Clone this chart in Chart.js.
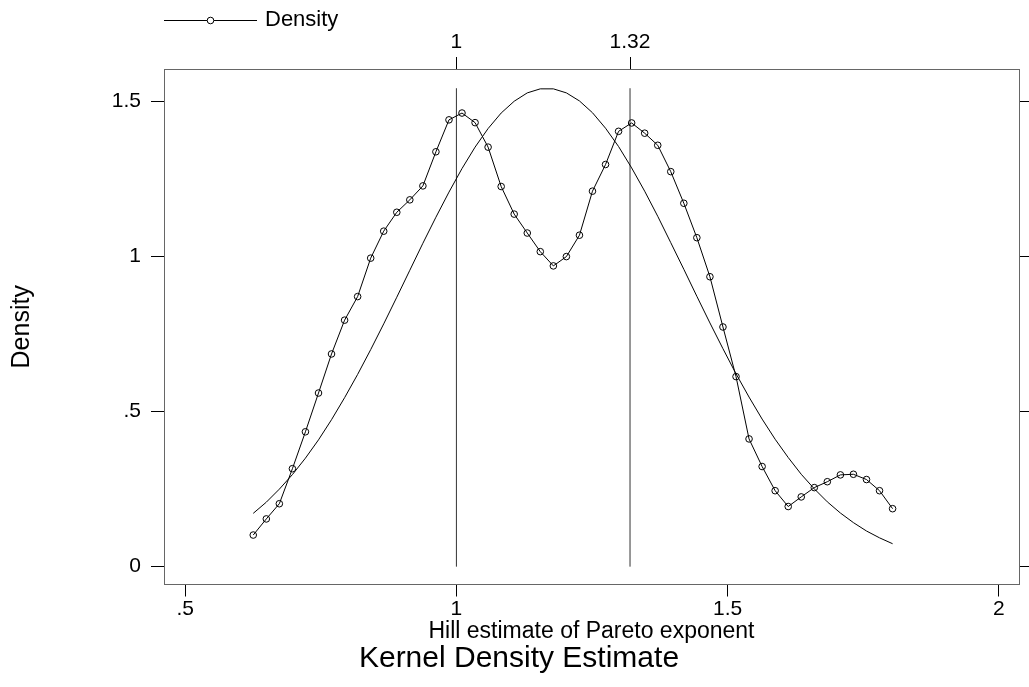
<!DOCTYPE html>
<html>
<head>
<meta charset="utf-8">
<script src="https://cdn.jsdelivr.net/npm/chart.js@4.4.1/dist/chart.umd.min.js"></script>
<style>
  body { margin: 0; background: #fff; }
  #wrap { width: 1029px; height: 687px; }
</style>
</head>
<body>
<div id="wrap"><canvas id="kdChart" width="1029" height="687"></canvas></div>
<script>
// evaluation points (Hill estimate)
const hillX = [0.6255, 0.6496, 0.6736, 0.6977, 0.7217, 0.7458, 0.7698, 0.7939, 0.8179, 0.8420,
  0.8660, 0.8901, 0.9141, 0.9382, 0.9622, 0.9863, 1.0103, 1.0344, 1.0584, 1.0825,
  1.1065, 1.1306, 1.1546, 1.1787, 1.2027, 1.2268, 1.2508, 1.2749, 1.2989, 1.3230,
  1.3470, 1.3711, 1.3951, 1.4192, 1.4432, 1.4673, 1.4913, 1.5154, 1.5394, 1.5635,
  1.5875, 1.6116, 1.6356, 1.6597, 1.6837, 1.7078, 1.7318, 1.7559, 1.7799, 1.8040];

// kernel density (marked line)
const kernelDensity = [0.102, 0.154, 0.203, 0.316, 0.435, 0.560, 0.686, 0.795, 0.871, 0.995,
  1.082, 1.143, 1.183, 1.228, 1.338, 1.441, 1.463, 1.432, 1.353, 1.226,
  1.137, 1.076, 1.016, 0.970, 1.000, 1.069, 1.211, 1.297, 1.404, 1.431,
  1.398, 1.359, 1.274, 1.172, 1.061, 0.935, 0.773, 0.613, 0.412, 0.323,
  0.245, 0.194, 0.225, 0.255, 0.274, 0.296, 0.298, 0.281, 0.245, 0.187];

// normal density overlay (smooth line)
const normalDensity = [0.172, 0.208, 0.250, 0.297, 0.350, 0.409, 0.474, 0.545, 0.620, 0.700,
  0.783, 0.869, 0.956, 1.043, 1.127, 1.208, 1.284, 1.353, 1.413, 1.463,
  1.501, 1.528, 1.541, 1.541, 1.528, 1.502, 1.464, 1.414, 1.355, 1.286,
  1.211, 1.130, 1.045, 0.959, 0.872, 0.786, 0.703, 0.622, 0.547, 0.476,
  0.411, 0.352, 0.298, 0.251, 0.209, 0.173, 0.142, 0.115, 0.093, 0.074];

// vertical reference lines
const refLines = [1, 1.32];
const refTop = 1.543;

const xTicks = [0.5, 1, 1.5, 2];
const xTickLabels = [".5", "1", "1.5", "2"];
const topTicks = [1, 1.32];
const topTickLabels = ["1", "1.32"];
const yTicks = [0, 0.5, 1, 1.5];
const yTickLabels = ["0", ".5", "1", "1.5"];

const FONT = "'Liberation Sans', Arial, sans-serif";

const toPoints = (ys) => hillX.map((x, i) => ({ x: x, y: ys[i] }));

const refSets = refLines.map((v) => ({
  label: "ref" + v,
  data: [{ x: v, y: 0 }, { x: v, y: refTop }],
  borderColor: "#333",
  borderWidth: 1,
  pointRadius: 0,
  tension: 0,
}));

// legend + main title drawn after the chart
const extras = {
  id: "extras",
  afterDraw(chart) {
    const c = chart.ctx;
    c.save();
    c.strokeStyle = "#000";
    c.lineWidth = 1;
    c.beginPath();
    c.moveTo(164, 20.5);
    c.lineTo(257, 20.5);
    c.stroke();
    c.fillStyle = "#fff";
    c.beginPath();
    c.arc(210.5, 20.5, 3.3, 0, Math.PI * 2);
    c.fill();
    c.stroke();
    c.fillStyle = "#000";
    c.font = "22px " + FONT;
    c.textAlign = "left";
    c.textBaseline = "middle";
    c.fillText("Density", 265, 20);
    c.font = "30px " + FONT;
    c.textAlign = "center";
    c.fillText("Kernel Density Estimate", 519, 659);
    c.restore();
  },
};

const tickFont = { family: FONT, size: 21 };

new Chart(document.getElementById("kdChart"), {
  type: "line",
  data: {
    datasets: [
      {
        label: "Density",
        data: toPoints(kernelDensity),
        borderColor: "#000",
        borderWidth: 1,
        pointStyle: "circle",
        pointRadius: 3.3,
        pointBorderWidth: 1,
        pointBorderColor: "#000",
        pointBackgroundColor: "rgba(0,0,0,0)",
        tension: 0,
      },
      {
        label: "Normal density",
        data: toPoints(normalDensity),
        borderColor: "#000",
        borderWidth: 1,
        pointRadius: 0,
        tension: 0,
      },
      ...refSets,
    ],
  },
  options: {
    responsive: false,
    devicePixelRatio: 1,
    animation: false,
    layout: { padding: 0 },
    plugins: { legend: { display: false }, title: { display: false }, tooltip: { enabled: false } },
    scales: {
      x: {
        type: "linear",
        position: "bottom",
        min: 0.461,
        max: 2.037,
        afterBuildTicks: (s) => { s.ticks = xTicks.map((v) => ({ value: v })); },
        afterFit: (s) => { s.height = 102.5; },
        ticks: {
          autoSkip: false, maxRotation: 0, padding: 0, color: "#000", font: tickFont,
          callback: (v, i) => xTickLabels[i],
        },
        grid: { drawOnChartArea: false, drawTicks: true, tickLength: 12, tickColor: "#000" },
        border: { display: true, color: "#666", width: 1 },
        title: {
          display: true, text: "Hill estimate of Pareto exponent", color: "#000",
          font: { family: FONT, size: 23 }, padding: { top: 0, bottom: 42 },
        },
      },
      xTop: {
        type: "linear",
        position: "top",
        min: 0.461,
        max: 2.037,
        afterBuildTicks: (s) => { s.ticks = topTicks.map((v) => ({ value: v })); },
        afterFit: (s) => { s.height = 69; },
        ticks: {
          autoSkip: false, maxRotation: 0, padding: 2, color: "#000", font: tickFont,
          callback: (v, i) => topTickLabels[i],
        },
        grid: { drawOnChartArea: false, drawTicks: true, tickLength: 12, tickColor: "#000" },
        border: { display: true, color: "#666", width: 1 },
      },
      y: {
        type: "linear",
        position: "left",
        min: -0.0575,
        max: 1.605,
        afterBuildTicks: (s) => { s.ticks = yTicks.map((v) => ({ value: v })); },
        afterFit: (s) => { s.width = 164; },
        ticks: {
          autoSkip: false, padding: 10, color: "#000", font: tickFont,
          callback: (v, i) => yTickLabels[i],
        },
        grid: { drawOnChartArea: false, drawTicks: true, tickLength: 13, tickColor: "#000" },
        border: { display: true, color: "#666", width: 1 },
        title: {
          display: true, text: "Density", color: "#000",
          font: { family: FONT, size: 25 }, padding: { top: 7, bottom: 0 },
        },
      },
      yRight: {
        type: "linear",
        position: "right",
        min: -0.0575,
        max: 1.605,
        afterBuildTicks: (s) => { s.ticks = yTicks.map((v) => ({ value: v })); },
        afterFit: (s) => { s.width = 10; },
        ticks: { display: false },
        grid: { drawOnChartArea: false, drawTicks: true, tickLength: 10, tickColor: "#000" },
        border: { display: true, color: "#666", width: 1 },
      },
    },
  },
  plugins: [extras],
});
</script>
</body>
</html>
